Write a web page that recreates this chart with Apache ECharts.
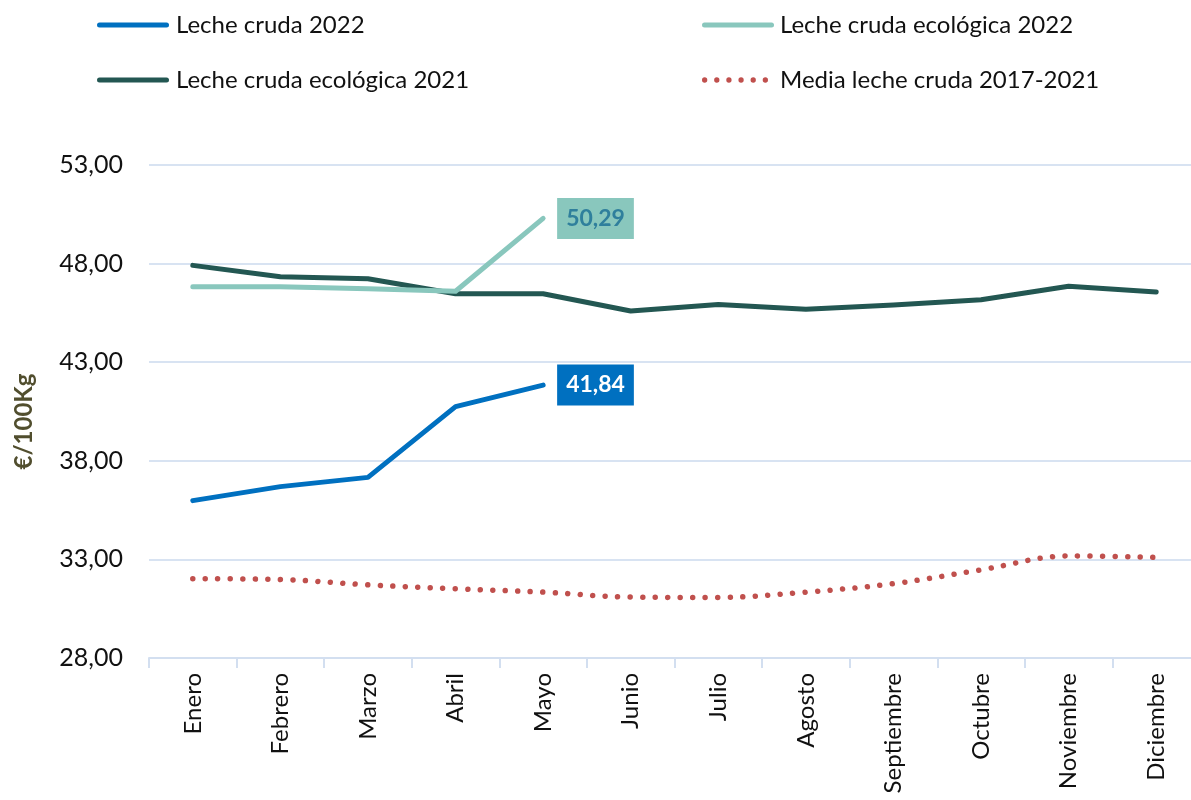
<!DOCTYPE html>
<html>
<head>
<meta charset="utf-8">
<script src="https://cdn.jsdelivr.net/npm/echarts@6/dist/echarts.min.js"></script>
<style>
html,body{margin:0;padding:0;background:#fff;}
#chart{width:1191px;height:800px;}
</style>
</head>
<body>
<div id="chart"></div>
<script>
const months = ["Enero","Febrero","Marzo","Abril","Mayo","Junio","Julio","Agosto","Septiembre","Octubre","Noviembre","Diciembre"];
const lecheCruda2022 = [35.98, 36.69, 37.16, 40.75, 41.84];
const ecologica2022 = [46.83, 46.82, 46.72, 46.6, 50.29];
const ecologica2021 = [47.91, 47.33, 47.23, 46.47, 46.47, 45.60, 45.93, 45.68, 45.90, 46.17, 46.85, 46.56];
const media2017_2021 = [32.02, 31.98, 31.71, 31.51, 31.34, 31.09, 31.07, 31.34, 31.77, 32.47, 33.18, 33.10];
const seriesNames = ["Leche cruda 2022", "Leche cruda ecológica 2022", "Leche cruda ecológica 2021", "Media leche cruda 2017-2021"];
const yMin = 28, yMax = 53, yStep = 5;

const FONT = "Lato";
const fmt = v => v.toFixed(2).replace('.', ',');

// legend icons (drawn shapes, not data)
const lineIcon = 'path://M2.5,0 L69.5,0 A2.5,2.5 0 0 1 69.5,5 L2.5,5 A2.5,2.5 0 0 1 2.5,0 Z';
let dotPath = 'path://';
for (let k = 0; k < 6; k++) {
  const cx = 2.75 + k * 12.6;
  dotPath += 'M' + (cx - 2.75) + ',2.75 A2.75,2.75 0 1 0 ' + (cx + 2.75) + ',2.75 A2.75,2.75 0 1 0 ' + (cx - 2.75) + ',2.75 Z ';
}

function endLabel(bg, fg) {
  return {
    show: true, distance: 14,
    formatter: p => fmt(p.value),
    backgroundColor: bg, color: fg,
    fontFamily: FONT, fontWeight: 'bold', fontSize: 23,
    lineHeight: 25, padding: [8, 9, 8, 9]
  };
}

function legendItem(left, top, name, icon, w, h, color, pad) {
  return {
    left: left, top: top, orient: 'horizontal', selectedMode: false,
    itemWidth: w, itemHeight: h,
    data: [{ name: name, icon: icon, itemStyle: { color: color, borderWidth: 0 } }],
    textStyle: { fontFamily: FONT, fontSize: 24, color: '#111', padding: [0, 0, 0, pad] }
  };
}

const chart = echarts.init(document.getElementById('chart'), null, { renderer: 'canvas' });
chart.setOption({
  animation: false,
  backgroundColor: '#fff',
  grid: { left: 149, right: -9, top: 165, bottom: 142, containLabel: false, outerBoundsMode: 'none' },
  legend: [
    legendItem(92, 8, seriesNames[0], lineIcon, 72, 5, '#0070c0', 2),
    legendItem(697, 8, seriesNames[1], lineIcon, 72, 5, '#89c7bd', 1),
    legendItem(92, 63, seriesNames[2], lineIcon, 72, 5, '#235752', 2),
    legendItem(697, 63, seriesNames[3], dotPath, 66, 5.5, '#c0504d', 7)
  ],
  xAxis: {
    type: 'category', data: months, boundaryGap: true,
    axisLine: { show: true, lineStyle: { color: '#d3dff0', width: 2 } },
    axisTick: { show: true, length: 10, lineStyle: { color: '#d3dff0', width: 2 } },
    axisLabel: { rotate: 90, margin: 15, fontFamily: FONT, fontSize: 24, color: '#111', interval: 0 },
    splitLine: { show: false }
  },
  yAxis: {
    type: 'value', min: yMin, max: yMax, interval: yStep,
    name: '€/100Kg', nameLocation: 'middle', nameGap: 113, nameRotate: 90,
    nameTextStyle: { fontFamily: FONT, fontSize: 24, fontWeight: 'bold', color: '#514e2e', padding: [0, 20, 0, 0] },
    axisLine: { show: false }, axisTick: { show: false },
    axisLabel: { margin: 26, fontFamily: FONT, fontSize: 25, color: '#111', formatter: v => fmt(v) },
    splitLine: { show: true, lineStyle: { color: '#d8e3f2', width: 2 } }
  },
  series: [
    {
      name: seriesNames[3], type: 'line', data: media2017_2021, z: 1,
      symbol: 'none', smooth: 0.35,
      lineStyle: { color: '#c0504d', width: 5.5, type: [0.01, 12.5], cap: 'round' },
      itemStyle: { color: '#c0504d' }
    },
    {
      name: seriesNames[2], type: 'line', data: ecologica2021, z: 2,
      symbol: 'none',
      lineStyle: { color: '#235752', width: 5, cap: 'round', join: 'round' },
      itemStyle: { color: '#235752' }
    },
    {
      name: seriesNames[1], type: 'line', z: 3, data: ecologica2022,
      symbol: 'none',
      lineStyle: { color: '#89c7bd', width: 5, cap: 'round', join: 'round' },
      itemStyle: { color: '#89c7bd' },
      endLabel: endLabel('#89c7bd', '#2f7f9c')
    },
    {
      name: seriesNames[0], type: 'line', z: 4, data: lecheCruda2022,
      symbol: 'none',
      lineStyle: { color: '#0070c0', width: 5, cap: 'round', join: 'round' },
      itemStyle: { color: '#0070c0' },
      endLabel: endLabel('#0070c0', '#ffffff')
    }
  ]
});
</script>
</body>
</html>
